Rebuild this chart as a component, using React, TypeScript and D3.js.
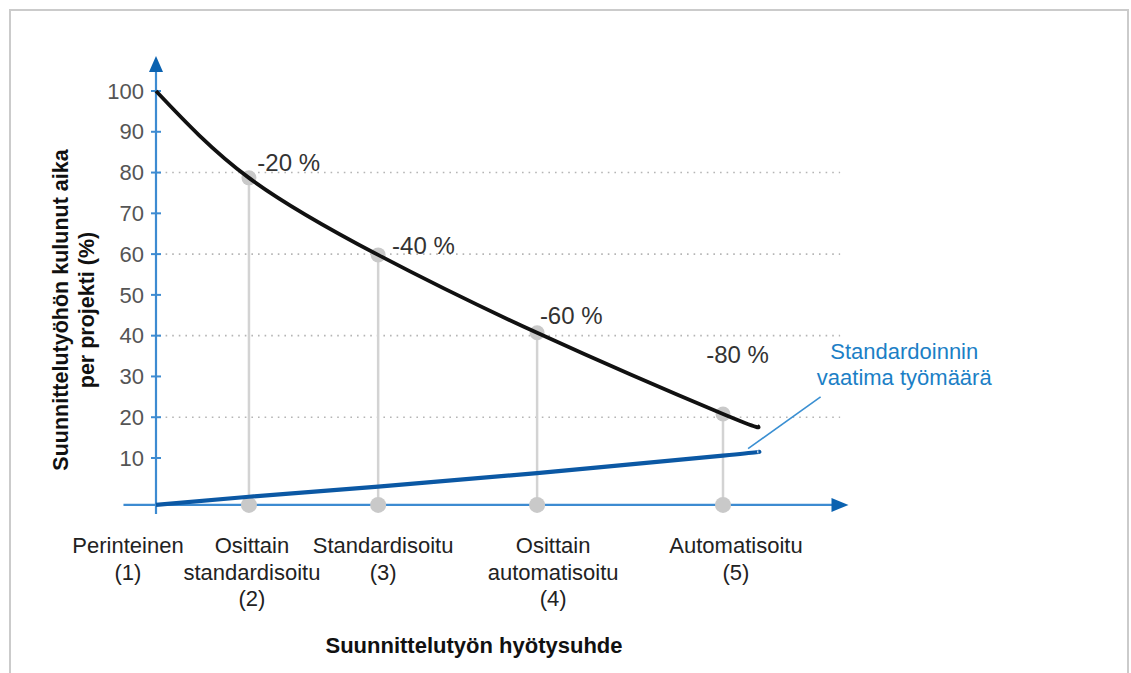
import React from "react";
import * as d3 from "d3";

// ---- Data ----
const categoryLabels: string[][] = [
  ["Perinteinen", "(1)"],
  ["Osittain", "standardisoitu", "(2)"],
  ["Standardisoitu", "(3)"],
  ["Osittain", "automatisoitu", "(4)"],
  ["Automatisoitu", "(5)"],
];
const stageX = [0, 1, 2.39, 4.1, 6.1];
const categoryLabelDx = [-28, 3, 5, 16, 13];

const timeCurveX = [0, 1, 2.39, 4.1, 6.1, 6.47];
const timeCurveY = [100, 78.7, 59.8, 40.7, 20.8, 17.9];

const stageTimeValues = [78.7, 59.8, 40.7, 20.8];

const effortX = [0, 1, 2.39, 4.1, 6.1, 6.48];
const effortY = [-1.5, 0.5, 3.0, 6.3, 10.6, 11.5];

const reductionLabels = ["-20 %", "-40 %", "-60 %", "-80 %"];
const reductionLabelX = [1.09, 2.54, 4.13, 5.92];
const reductionLabelY = [80.4, 60.1, 42.9, 33.3];

const yTicks = [10, 20, 30, 40, 50, 60, 70, 80, 90, 100];
const gridValues = [20, 40, 60, 80];

const annotationLines = ["Standardoinnin", "vaatima työmäärä"];
const annotationX = 8.05;
const annotationY = 34.3;
const leaderFrom = [7.15, 25.0];
const leaderTo = [6.37, 12.3];

const yTitleLines = ["Suunnittelutyöhön kulunut aika", "per projekti (%)"];
const xTitle = "Suunnittelutyön hyötysuhde";

const axisBaseline = -1.5;
const yAxisTopValue = 108.6;
const xAxisStartValue = -0.35;
const xAxisEndValue = 7.45;
const gridEndValue = 7.36;

// ---- Component ----
export default function App() {
  const W = 1131;
  const H = 673;
  const font = "'Liberation Sans', Arial, Helvetica, sans-serif";

  const x = d3.scaleLinear().domain([0, 6.1]).range([156, 723]);
  const y = d3.scaleLinear().domain([10, 100]).range([458, 91]);

  const axisBlue = "#3d8bd1";
  const arrowBlue = "#0b62b0";
  const lineBlue = "#0b58a4";
  const grayDot = "#c9c9c9";

  const timeLine = d3
    .line<number>()
    .x((_, i) => x(timeCurveX[i]))
    .y((d) => y(d))
    .curve(d3.curveNatural)(timeCurveY) as string;

  const effortLine = d3
    .line<number>()
    .x((_, i) => x(effortX[i]))
    .y((d) => y(d))
    .curve(d3.curveNatural)(effortY) as string;

  const y0 = y(axisBaseline);
  const xAxisX0 = x(0);
  const yTop = y(yAxisTopValue);
  const xEnd = x(xAxisEndValue);

  return (
    <div style={{ position: "fixed", left: 0, top: 0 }}>
      <svg width={W} height={H} style={{ display: "block", background: "#fff" }}>
        {/* frame */}
        <rect x={10} y={10} width={1118} height={700} fill="none" stroke="#cbcbcb" strokeWidth={2} />

        {/* grid lines */}
        {gridValues.map((v) => (
          <line
            key={"g" + v}
            x1={x(0) + 3}
            x2={x(gridEndValue)}
            y1={y(v)}
            y2={y(v)}
            stroke="#b5b5b5"
            strokeWidth={1.6}
            strokeDasharray="1.6 5"
          />
        ))}

        {/* x axis */}
        <line x1={x(xAxisStartValue)} x2={xEnd - 12} y1={y0} y2={y0} stroke={axisBlue} strokeWidth={2.2} />
        <path d={`M${xEnd},${y0} L${xEnd - 17},${y0 - 7} L${xEnd - 17},${y0 + 7} Z`} fill={arrowBlue} />

        {/* y axis */}
        <line x1={xAxisX0} x2={xAxisX0} y1={y0 + 9} y2={yTop + 12} stroke={axisBlue} strokeWidth={2.2} />
        <path d={`M${xAxisX0},${yTop} L${xAxisX0 - 7},${yTop + 16} L${xAxisX0 + 7},${yTop + 16} Z`} fill={arrowBlue} />
        {yTicks.map((t) => (
          <g key={"t" + t}>
            <line x1={xAxisX0 - 5} x2={xAxisX0 + 5} y1={y(t)} y2={y(t)} stroke={axisBlue} strokeWidth={2} />
            <text
              x={xAxisX0 - 12}
              y={y(t)}
              dy="0.35em"
              textAnchor="end"
              fontFamily={font}
              fontSize={22}
              fill="#555"
            >
              {t}
            </text>
          </g>
        ))}

        {/* gray stage stems and dots */}
        {stageTimeValues.map((v, i) => (
          <g key={"s" + i}>
            <line
              x1={x(stageX[i + 1])}
              x2={x(stageX[i + 1])}
              y1={y(v)}
              y2={y0}
              stroke="#d3d3d3"
              strokeWidth={2.5}
            />
            <circle cx={x(stageX[i + 1])} cy={y(v)} r={7.5} fill={grayDot} />
            <circle cx={x(stageX[i + 1])} cy={y0} r={8} fill={grayDot} />
          </g>
        ))}

        {/* effort line */}
        <path d={effortLine} fill="none" stroke={lineBlue} strokeWidth={4.2} strokeLinecap="butt" />

        {/* time curve */}
        <path d={timeLine} fill="none" stroke="#111" strokeWidth={3.8} />

        {/* reduction labels */}
        {reductionLabels.map((l, i) => (
          <text
            key={"r" + i}
            x={x(reductionLabelX[i])}
            y={y(reductionLabelY[i])}
            fontFamily={font}
            fontSize={24}
            fill="#333"
          >
            {l}
          </text>
        ))}

        {/* annotation */}
        <line
          x1={x(leaderFrom[0])}
          y1={y(leaderFrom[1])}
          x2={x(leaderTo[0])}
          y2={y(leaderTo[1])}
          stroke="#3a8fd2"
          strokeWidth={1.6}
        />
        {annotationLines.map((l, i) => (
          <text
            key={"a" + i}
            x={x(annotationX)}
            y={y(annotationY) + i * 26}
            textAnchor="middle"
            fontFamily={font}
            fontSize={22}
            fill="#1c7fc6"
          >
            {l}
          </text>
        ))}

        {/* category labels */}
        {categoryLabels.map((lines, i) => (
          <text
            key={"c" + i}
            x={x(stageX[i]) + categoryLabelDx[i]}
            y={553}
            textAnchor="middle"
            fontFamily={font}
            fontSize={22}
            fill="#222"
          >
            {lines.map((ln, j) => (
              <tspan key={j} x={x(stageX[i]) + categoryLabelDx[i]} dy={j === 0 ? 0 : 26.5}>
                {ln}
              </tspan>
            ))}
          </text>
        ))}

        {/* x title */}
        <text x={474} y={653} textAnchor="middle" fontFamily={font} fontSize={22} fontWeight="bold" fill="#111">
          {xTitle}
        </text>

        {/* y title */}
        {yTitleLines.map((l, i) => (
          <text
            key={"yt" + i}
            transform={`translate(${68 + i * 26},310) rotate(-90)`}
            textAnchor="middle"
            fontFamily={font}
            fontSize={21.5}
            fontWeight="bold"
            fill="#111"
          >
            {l}
          </text>
        ))}
      </svg>
    </div>
  );
}
